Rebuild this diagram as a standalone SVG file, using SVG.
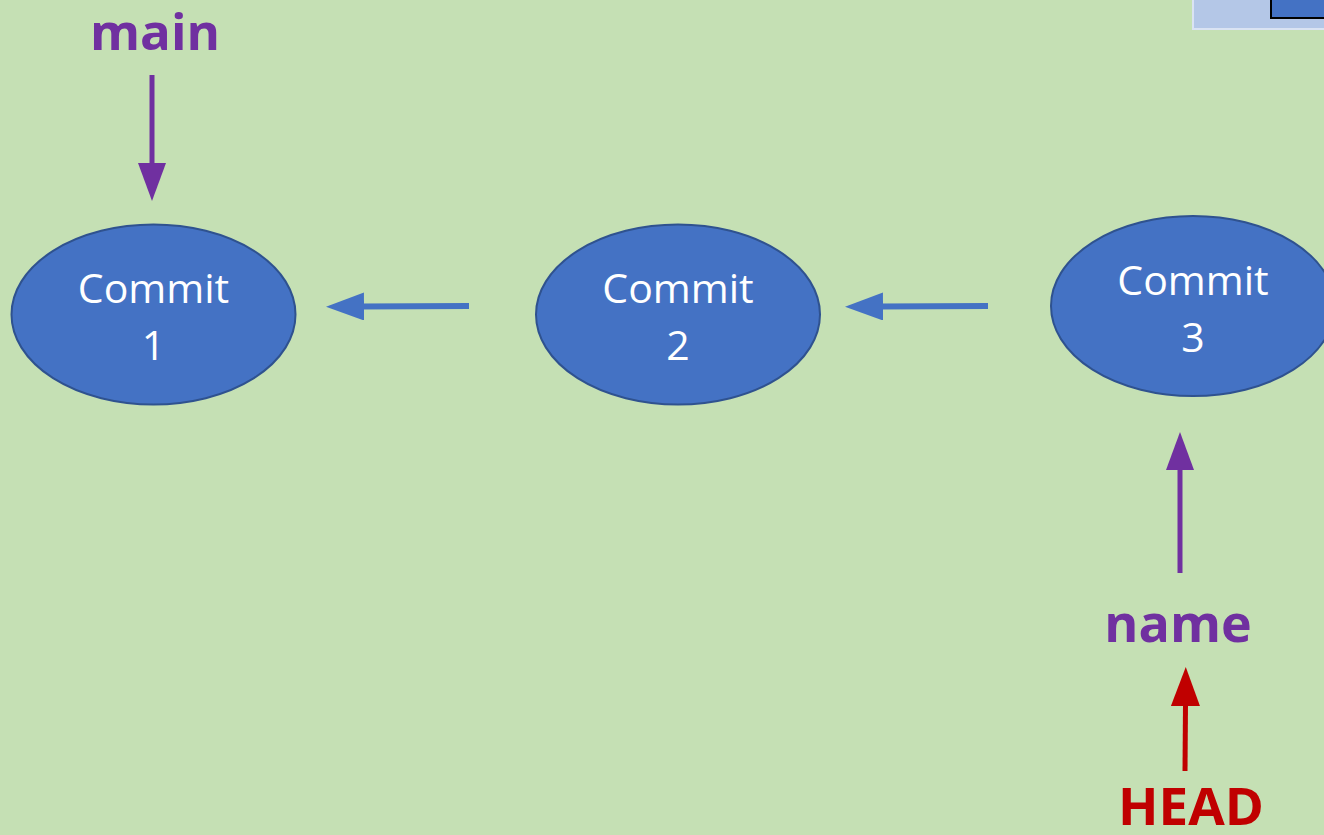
<svg xmlns="http://www.w3.org/2000/svg" width="1324" height="835" viewBox="0 0 1324 835">
  <style>
    .commit { fill: #4472C4; stroke: #2F528F; stroke-width: 2; }
    .commit-label { font-family: "Open Sans", "Noto Sans", sans-serif; font-size: 41px; fill: #FFFFFF; text-anchor: middle; }
    .ref-label { font-family: "Open Sans", "Noto Sans", sans-serif; font-weight: bold; text-anchor: middle; }
    .branch { fill: #7030A0; }
    .head { fill: #C00000; }
    .link { stroke: #4472C4; stroke-width: 6; fill: none; }
    .branch-link { stroke: #7030A0; stroke-width: 5; fill: none; }
    .head-link { stroke: #C00000; stroke-width: 5; fill: none; }
  </style>
  <defs>
    <marker id="tip-blue" markerUnits="userSpaceOnUse" viewBox="0 0 38 28" markerWidth="38" markerHeight="28" refX="2" refY="14" orient="auto">
      <path d="M0,0 L38,14 L0,28 Z" fill="#4472C4"/>
    </marker>
    <marker id="tip-purple" markerUnits="userSpaceOnUse" viewBox="0 0 38 28" markerWidth="38" markerHeight="28" refX="2" refY="14" orient="auto">
      <path d="M0,0 L38,14 L0,28 Z" fill="#7030A0"/>
    </marker>
    <marker id="tip-red" markerUnits="userSpaceOnUse" viewBox="0 0 39 29" markerWidth="39" markerHeight="29" refX="2" refY="14.5" orient="auto">
      <path d="M0,0 L39,14.5 L0,29 Z" fill="#C00000"/>
    </marker>
  </defs>

  <!-- background -->
  <rect x="0" y="0" width="1324" height="835" fill="#C5E0B4"/>

  <!-- partly visible panel in the upper right corner -->
  <g id="corner-panel">
    <rect x="1193" y="-10" width="140" height="39" fill="#B4C7E7" stroke="#DAE3F3" stroke-width="2"/>
    <rect x="1271" y="-10" width="60" height="28" fill="#4472C4" stroke="#000000" stroke-width="2"/>
  </g>

  <!-- connectors -->
  <g id="connectors">
    <line class="link" x1="469" y1="306" x2="362" y2="306.5" marker-end="url(#tip-blue)"/>
    <line class="link" x1="988" y1="306" x2="881" y2="306.5" marker-end="url(#tip-blue)"/>
    <line class="branch-link" x1="152" y1="75" x2="152" y2="165" marker-end="url(#tip-purple)"/>
    <line class="branch-link" x1="1180" y1="573" x2="1180" y2="468" marker-end="url(#tip-purple)"/>
    <line class="head-link" x1="1185" y1="771" x2="1185.5" y2="704" marker-end="url(#tip-red)"/>
  </g>

  <!-- commits -->
  <g id="commit-1">
    <ellipse class="commit" cx="153.5" cy="314.5" rx="142" ry="90"/>
    <text class="commit-label" x="153.5" y="303">Commit</text>
    <text class="commit-label" x="153.5" y="360">1</text>
  </g>
  <g id="commit-2">
    <ellipse class="commit" cx="678" cy="314.5" rx="142" ry="90"/>
    <text class="commit-label" x="678" y="303">Commit</text>
    <text class="commit-label" x="678" y="360">2</text>
  </g>
  <g id="commit-3">
    <ellipse class="commit" cx="1193" cy="306" rx="142" ry="90"/>
    <text class="commit-label" x="1193" y="295">Commit</text>
    <text class="commit-label" x="1193" y="352">3</text>
  </g>

  <!-- references -->
  <g id="branch-main">
    <text class="ref-label branch" x="155" y="50" font-size="51">main</text>
  </g>
  <g id="branch-name">
    <text class="ref-label branch" x="1178" y="642" font-size="52">name</text>
  </g>
  <g id="head">
    <text class="ref-label head" x="1191" y="825" font-size="52" textLength="146" lengthAdjust="spacingAndGlyphs">HEAD</text>
  </g>
</svg>
